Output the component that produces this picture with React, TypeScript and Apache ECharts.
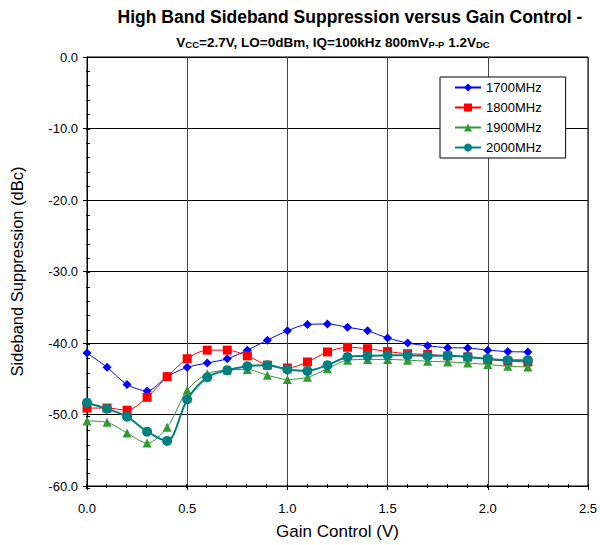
import React, { useEffect, useRef } from "react";
import * as echarts from "echarts";

const gainControl = [0.0, 0.1, 0.2, 0.3, 0.4, 0.5, 0.6, 0.7, 0.8, 0.9, 1.0, 1.1, 1.2, 1.3, 1.4, 1.5, 1.6, 1.7, 1.8, 1.9, 2.0, 2.1, 2.2];
const s1700 = [-41.4, -43.4, -45.8, -46.7, -44.7, -43.4, -42.8, -42.2, -41.0, -39.6, -38.3, -37.4, -37.35, -37.8, -38.3, -39.3, -40.0, -40.4, -40.65, -40.7, -41.0, -41.2, -41.25];
const s1800 = [-49.1, -49.1, -49.4, -47.6, -44.7, -42.2, -41.0, -41.0, -41.8, -43.1, -43.5, -42.65, -41.25, -40.6, -40.8, -41.2, -41.5, -41.6, -41.8, -41.95, -42.3, -42.55, -42.65];
const s1900 = [-50.9, -51.1, -52.6, -54.0, -51.8, -46.6, -44.3, -43.8, -43.7, -44.5, -45.1, -44.8, -43.6, -42.4, -42.3, -42.3, -42.4, -42.55, -42.65, -42.8, -43.0, -43.25, -43.35];
const s2000 = [-48.35, -49.2, -50.3, -52.4, -53.7, -47.9, -44.8, -43.8, -43.25, -43.1, -43.7, -43.9, -43.1, -41.95, -41.8, -41.7, -41.7, -41.8, -41.8, -41.95, -42.2, -42.4, -42.4];

const seriesNames = ["1700MHz", "1800MHz", "1900MHz", "2000MHz"];
const seriesColors = ["#0000FF", "#FF0000", "#339933", "#008080"];
const seriesSymbols = ["diamond", "rect", "triangle", "circle"];
const seriesSizes = [9, 9, 9, 10];
const seriesWidths = [1, 1, 1, 2];
const seriesValues = [s1700, s1800, s1900, s2000];

const FONT = "Arial, 'Liberation Sans', sans-serif";

export default function App() {
  const ref = useRef<HTMLDivElement>(null);
  useEffect(() => {
    if (!ref.current) return;
    const chart = echarts.init(ref.current, null, { renderer: "svg" });
    const series = seriesValues.map((vals, i) => ({
      name: seriesNames[i],
      type: "line",
      xAxisIndex: 0,
      yAxisIndex: 0,
      data: vals.map((v, j) => [gainControl[j], v]),
      smooth: 0.3,
      symbol: seriesSymbols[i],
      symbolSize: seriesSizes[i],
      color: seriesColors[i],
      lineStyle: { color: seriesColors[i], width: seriesWidths[i] },
      itemStyle: { color: seriesColors[i] },
      z: 3 + i,
    }));
    const gridBox = { left: 86, right: 12, top: 57, bottom: 57 };
    const minorX = {
      type: "value",
      gridIndex: 1,
      min: 0,
      max: 2.5,
      interval: 0.1,
      position: "bottom",
      axisLine: { show: false, onZero: false },
      axisLabel: { show: false },
      splitLine: { show: false },
      axisTick: { show: true, inside: true, length: 4, lineStyle: { color: "#000", width: 1 } },
    };
    const minorY = {
      type: "value",
      gridIndex: 1,
      min: -60,
      max: 0,
      interval: 2,
      position: "left",
      axisLine: { show: false, onZero: false },
      axisLabel: { show: false },
      splitLine: { show: false },
      axisTick: { show: true, inside: true, length: 4, lineStyle: { color: "#000", width: 1 } },
    };
    chart.setOption({
      animation: false,
      backgroundColor: "#ffffff",
      textStyle: { fontFamily: FONT },
      grid: [
        { ...gridBox, show: true, borderColor: "#000", borderWidth: 1 },
        { ...gridBox, show: false },
      ],
      graphic: [
        {
          type: "text",
          x: 350,
          y: 17,
          style: {
            text: "High Band Sideband Suppression versus Gain Control -",
            font: `bold 17.5px ${FONT}`,
            fill: "#000",
            align: "center",
            verticalAlign: "middle",
          },
        },
        {
          type: "text",
          x: 333,
          y: 42,
          style: {
            text: "{m|V}{s|CC}{m|=2.7V, LO=0dBm, IQ=100kHz 800mV}{s|P-P}{m| 1.2V}{s|DC}",
            align: "center",
            verticalAlign: "middle",
            rich: {
              m: { fontFamily: FONT, fontWeight: "bold", fontSize: 13.5, fill: "#000", verticalAlign: "bottom" },
              s: { fontFamily: FONT, fontWeight: "bold", fontSize: 9.5, fill: "#000", padding: [5, 0, 0, 0], verticalAlign: "bottom" },
            },
          },
        },
      ],
      legend: {
        orient: "vertical",
        left: 440,
        top: 77,
        padding: [4, 24, 4, 14],
        itemGap: 7,
        itemWidth: 26,
        itemHeight: 10,
        borderColor: "#000",
        borderWidth: 1,
        backgroundColor: "#fff",
        textStyle: { fontFamily: FONT, fontSize: 13, color: "#000" },
        data: seriesNames,
      },
      xAxis: [
        {
          type: "value",
          gridIndex: 0,
          min: 0,
          max: 2.5,
          interval: 0.5,
          name: "Gain Control (V)",
          nameLocation: "middle",
          nameGap: 37,
          nameTextStyle: { fontFamily: FONT, fontSize: 17, color: "#000" },
          axisLine: { show: true, onZero: false, lineStyle: { color: "#000", width: 1 } },
          axisTick: { show: true, inside: false, length: 4, lineStyle: { color: "#000", width: 1 } },
          axisLabel: { fontFamily: FONT, fontSize: 13, color: "#000", margin: 16, formatter: (v: number) => v.toFixed(1) },
          splitLine: { show: true, lineStyle: { color: "#444", width: 1 } },
        },
        minorX,
      ],
      yAxis: [
        {
          type: "value",
          gridIndex: 0,
          min: -60,
          max: 0,
          interval: 10,
          name: "Sideband Suppression (dBc)",
          nameLocation: "middle",
          nameGap: 62,
          nameTextStyle: { fontFamily: FONT, fontSize: 16.5, color: "#000" },
          axisLine: { show: true, onZero: false, lineStyle: { color: "#000", width: 1 } },
          axisTick: { show: true, inside: false, length: 4, lineStyle: { color: "#000", width: 1 } },
          axisLabel: { fontFamily: FONT, fontSize: 13, color: "#000", margin: 9, formatter: (v: number) => v.toFixed(1) },
          splitLine: { show: true, lineStyle: { color: "#000", width: 1 } },
        },
        minorY,
      ],
      series,
    });
    return () => chart.dispose();
  }, []);
  return <div ref={ref} style={{ width: 600, height: 545, position: "absolute", left: 0, top: 0 }} />;
}
